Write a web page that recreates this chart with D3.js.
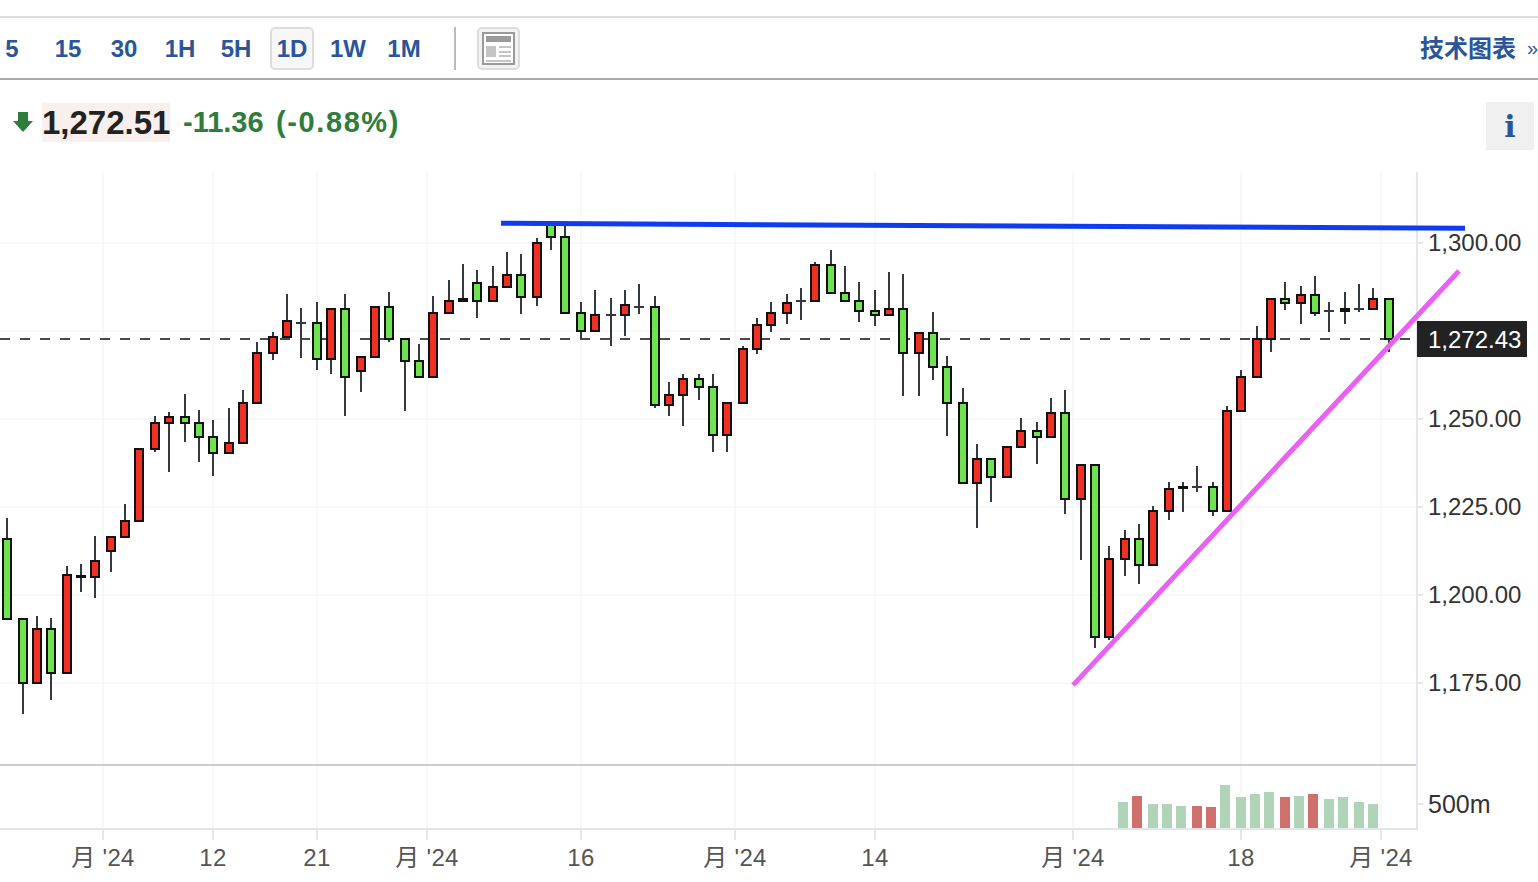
<!DOCTYPE html>
<html>
<head>
<meta charset="utf-8">
<script src="https://cdn.jsdelivr.net/npm/d3@7"></script>
<style>
  html, body { margin: 0; background: #fff; overflow: hidden; }
  text { font-family: "Liberation Sans", "Noto Sans CJK SC", sans-serif; }
  .axis .domain { display: none; }
</style>
</head>
<body>
<div id="chart"></div>
<script>
// candles, oldest first
const opens = [1215.9,1193.2,1175.0,1190.3,1177.8,1205.1,1205.1,1212.5,1216.5,1221.0,1241.5,1248.9,1250.6,1248.9,1244.9,1240.3,1243.2,1254.5,1268.7,1273.3,1277.3,1277.3,1267.0,1281.2,1263.6,1267.6,1281.8,1272.7,1266.5,1261.9,1280.1,1283.5,1288.6,1283.5,1287.5,1290.9,1284.7,1305.1,1301.7,1280.1,1275.0,1279.5,1279.5,1281.8,1281.8,1254.0,1256.8,1261.4,1259.1,1245.5,1254.5,1269.9,1276.7,1280.1,1283.5,1283.5,1293.8,1285.8,1283.5,1280.7,1279.5,1281.2,1268.7,1274.4,1264.8,1254.5,1231.8,1238.6,1233.5,1242.0,1246.6,1244.9,1251.7,1227.3,1236.9,1188.1,1210.2,1215.9,1208.5,1223.9,1230.4,1230.7,1230.7,1223.9,1252.3,1261.9,1272.7,1284.1,1283.0,1285.2,1280.7,1280.7,1281.2,1281.2,1284.1];
const closes = [1193.2,1175.0,1190.3,1177.8,1205.7,1205.4,1209.7,1216.5,1221.0,1241.5,1248.9,1250.6,1248.9,1244.9,1240.3,1243.2,1254.5,1268.7,1273.3,1277.8,1277.3,1267.0,1281.2,1261.9,1267.6,1281.8,1272.7,1266.5,1261.9,1280.1,1283.5,1284.1,1283.5,1287.5,1290.9,1284.7,1300.0,1301.7,1280.1,1275.0,1279.5,1279.5,1282.4,1281.8,1254.0,1256.8,1261.4,1259.1,1245.5,1254.5,1269.9,1276.7,1280.1,1283.0,1283.5,1293.8,1285.8,1283.5,1280.7,1279.5,1281.2,1268.7,1274.4,1264.8,1254.5,1231.8,1238.6,1233.5,1242.0,1246.6,1244.9,1251.7,1227.3,1236.9,1188.1,1210.2,1215.9,1208.5,1223.9,1230.1,1230.7,1230.7,1223.9,1252.3,1261.9,1272.7,1284.1,1283.0,1285.2,1280.1,1280.7,1281.2,1281.2,1284.1,1272.7];
const highs = [1221.9,1193.2,1194.0,1193.5,1208.2,1208.8,1216.8,1216.5,1225.9,1241.5,1250.9,1252.0,1257.1,1252.6,1249.7,1253.1,1258.2,1271.9,1274.7,1285.5,1281.5,1283.2,1281.2,1285.5,1267.6,1281.8,1286.1,1272.7,1271.3,1284.9,1289.5,1294.0,1292.3,1293.5,1297.4,1296.9,1301.4,1305.1,1305.1,1283.2,1286.6,1284.4,1286.6,1288.4,1284.9,1260.5,1262.8,1262.8,1262.8,1254.5,1270.7,1278.7,1283.2,1285.5,1287.2,1294.6,1298.0,1293.5,1288.9,1286.6,1291.8,1291.2,1274.4,1280.4,1267.9,1258.8,1242.9,1238.6,1242.0,1250.3,1249.1,1256.0,1258.2,1236.9,1236.9,1213.9,1218.5,1220.2,1225.3,1232.1,1232.1,1236.6,1232.1,1253.7,1263.9,1276.4,1284.1,1288.9,1287.8,1290.6,1283.2,1286.1,1288.4,1287.2,1284.1];
const lows = [1193.2,1166.2,1175.0,1170.2,1177.8,1200.9,1199.1,1206.5,1216.5,1221.0,1240.6,1234.9,1243.5,1237.8,1233.8,1240.3,1243.2,1254.5,1266.8,1273.3,1267.3,1263.9,1262.8,1250.9,1257.7,1267.6,1271.9,1252.3,1261.9,1261.9,1280.1,1283.5,1278.7,1283.5,1287.5,1279.8,1282.1,1298.0,1280.1,1272.7,1275.0,1270.7,1273.6,1279.8,1253.1,1250.9,1248.0,1255.4,1240.6,1240.6,1254.5,1268.5,1274.7,1277.0,1278.1,1283.5,1285.8,1283.5,1277.6,1276.4,1279.5,1256.5,1256.5,1261.1,1245.2,1231.8,1219.0,1226.4,1233.5,1242.0,1237.2,1244.9,1223.0,1209.9,1184.9,1187.2,1205.4,1203.1,1208.5,1221.3,1223.6,1229.3,1222.4,1223.9,1252.3,1261.9,1269.0,1281.0,1277.0,1279.3,1274.7,1277.0,1280.4,1281.2,1269.0];

// volume only exists for the last stretch of candles
const volumeStart = 76;
const volumes = [551,673,510,510,469,469,429,878,633,714,755,633,673,714,592,633,551,510];
const volumeUp = [0,1,0,0,0,1,1,0,0,0,0,1,0,1,0,0,0,0];

const priceTicks = [1300,1275,1250,1225,1200,1175];
const hiddenPriceTick = 1275;
const volumeTicks = [500];
const timeTicks = [6.484,13.97,21.05,28.54,39.02,49.51,59.04,72.52,83.95,93.48];
const timeLabels = ["月 '24","12","21","月 '24","16","月 '24","14","月 '24","18","月 '24"];

const priceLine = 1272.7;
const priceLineLabel = "1,272.43";
const blueTrend = [[33.58,1305.6],[99.2,1304.18]];
const pinkTrend = [[72.52,1174.4],[98.79,1292.05]];

const intervals = ["5","15","30","1H","5H","1D","1W","1M"];

const width = 1538, height = 882;
const plotTop = 172, plotRight = 1417, paneLine = 765, plotBottom = 829;
const red = "#ee3124", green = "#6fe350", wick = "#343a3d", blue = "#2a5599";

const svg = d3.select("#chart").append("svg")
  .attr("width", width).attr("height", height)
  .style("display", "block");

const x = d3.scaleLinear().domain([0, 94]).range([7.75, 1388.61]);
const xTick = x.copy().interpolate(d3.interpolateRound);
const y = d3.scaleLinear().domain([1175, 1300]).range([683, 243]);
const yVol = d3.scaleLinear().domain([0, 500]).range([828.5, 804]);

// the source chart snaps everything to odd pixels
const snap = v => Math.floor(v / 2) * 2 + 1;
const py = v => Math.round(y(v));

// grid
const grid = svg.append("g");
grid.selectAll(".gy").data(priceTicks).enter().append("line")
  .attr("x1", 0).attr("x2", plotRight)
  .attr("y1", d => y(d)).attr("y2", d => y(d))
  .attr("stroke", "#f7f8f9").attr("stroke-width", 2);
grid.selectAll(".gx").data(timeTicks).enter().append("line")
  .attr("x1", d => xTick(d)).attr("x2", d => xTick(d))
  .attr("y1", plotTop).attr("y2", plotBottom)
  .attr("stroke", "#f7f8f9").attr("stroke-width", 2);

// volume
const volumeBars = svg.append("g");
volumeBars.selectAll("rect").data(volumes).enter().append("rect")
  .attr("x", (d, i) => snap(x(volumeStart + i) - 1.2) - 5)
  .attr("width", 10)
  .attr("y", d => Math.round(yVol(d)))
  .attr("height", d => 828 - Math.round(yVol(d)))
  .attr("fill", (d, i) => volumeUp[i] ? "#d0706c" : "#b0d4b8");

// panes and axes
svg.append("line").attr("x1", 0).attr("x2", plotRight).attr("y1", paneLine).attr("y2", paneLine)
  .attr("stroke", "#cccccc").attr("stroke-width", 2);
svg.append("line").attr("x1", 0).attr("x2", plotRight).attr("y1", plotBottom).attr("y2", plotBottom)
  .attr("stroke", "#e3e6ec").attr("stroke-width", 2);
svg.append("line").attr("x1", plotRight).attr("x2", plotRight).attr("y1", plotTop).attr("y2", plotBottom + 1)
  .attr("stroke", "#e3e6ec").attr("stroke-width", 2);

function styleAxis(g) {
  g.attr("class", "axis");
  g.selectAll(".tick line").attr("stroke", "#e3e6ec").attr("stroke-width", 2);
  g.selectAll("text").style("font-size", "24px");
}

const priceAxis = svg.append("g").attr("transform", `translate(${plotRight},0)`)
  .call(d3.axisRight(y).tickValues(priceTicks).tickSize(6).tickPadding(5).offset(0)
    .tickFormat(d => d === hiddenPriceTick ? "" : d3.format(",.2f")(d)));
styleAxis(priceAxis);
priceAxis.selectAll("text").attr("fill", "#333");

const volumeAxis = svg.append("g").attr("transform", `translate(${plotRight},0)`)
  .call(d3.axisRight(yVol).tickValues(volumeTicks).tickSize(6).tickPadding(5).offset(0)
    .tickFormat(d => d + "m"));
styleAxis(volumeAxis);
volumeAxis.selectAll("text").attr("fill", "#333").attr("y", 1).style("font-size", "25px");

const timeAxis = svg.append("g").attr("transform", `translate(0,${plotBottom})`)
  .call(d3.axisBottom(xTick).tickValues(timeTicks).tickSize(11).offset(0)
    .tickFormat((d, i) => timeLabels[i]));
styleAxis(timeAxis);
timeAxis.selectAll("text").attr("fill", "#555").attr("y", 37).attr("dy", 0).style("letter-spacing", "0.3px");

// last price line
svg.append("line")
  .attr("x1", 0).attr("x2", 1412)
  .attr("y1", py(priceLine)).attr("y2", py(priceLine))
  .attr("stroke", "#4a4a4a").attr("stroke-width", 2).attr("stroke-dasharray", "10 10");

// candles
const candles = svg.append("g").selectAll("g").data(d3.range(opens.length)).enter().append("g");
candles.append("line")
  .attr("x1", i => snap(x(i))).attr("x2", i => snap(x(i)))
  .attr("y1", i => py(highs[i])).attr("y2", i => py(lows[i]))
  .attr("stroke", wick).attr("stroke-width", 2);
candles.filter(i => opens[i] === closes[i]).append("line")
  .attr("x1", i => snap(x(i)) - 5).attr("x2", i => snap(x(i)) + 5)
  .attr("y1", i => py(opens[i])).attr("y2", i => py(opens[i]))
  .attr("stroke", wick).attr("stroke-width", 2);
candles.filter(i => opens[i] !== closes[i]).append("rect")
  .attr("x", i => snap(x(i)) - 4)
  .attr("width", 8)
  .attr("y", i => py(Math.max(opens[i], closes[i])))
  .attr("height", i => py(Math.min(opens[i], closes[i])) - py(Math.max(opens[i], closes[i])))
  .attr("fill", i => closes[i] > opens[i] ? red : green)
  .attr("stroke", "#111").attr("stroke-width", 2);

// hand drawn trend lines
const trendLine = d3.line().x(d => x(d[0])).y(d => y(d[1]));
svg.append("path").attr("d", trendLine(blueTrend)).attr("fill", "none")
  .attr("stroke", "#0f3cf0").attr("stroke-width", 5);
svg.append("path").attr("d", trendLine(pinkTrend)).attr("fill", "none")
  .attr("stroke", "#e961f2").attr("stroke-width", 5);

// last price tag
svg.append("rect").attr("x", 1417).attr("y", 321).attr("width", 110).attr("height", 36).attr("fill", "#222");
svg.append("text").attr("x", 1428).attr("y", 348).attr("fill", "#fff").style("font-size", "24px").text(priceLineLabel);

// toolbar
svg.append("rect").attr("width", width).attr("y", 16).attr("height", 2).attr("fill", "#dddddd");
svg.append("rect").attr("width", width).attr("y", 78).attr("height", 2).attr("fill", "#aaaaaa");
svg.append("rect").attr("x", 271).attr("y", 28).attr("width", 42).attr("height", 41).attr("rx", 4)
  .attr("fill", "#f7f7f7").attr("stroke", "#dddddd").attr("stroke-width", 2);
svg.selectAll(".interval").data(intervals).enter().append("text")
  .attr("x", (d, i) => 12 + i * 56).attr("y", 57).attr("text-anchor", "middle")
  .attr("fill", blue).style("font-size", "24px").style("font-weight", "bold")
  .text(d => d);
svg.append("rect").attr("x", 454).attr("y", 27).attr("width", 2).attr("height", 43).attr("fill", "#bbbbbb");

// layout icon
svg.append("rect").attr("x", 478).attr("y", 28).attr("width", 41).attr("height", 41).attr("rx", 4)
  .attr("fill", "#f2f2f2").attr("stroke", "#dddddd").attr("stroke-width", 2);
svg.append("rect").attr("x", 483).attr("y", 33).attr("width", 31).attr("height", 31)
  .attr("fill", "#fff").attr("stroke", "#9a9a9a").attr("stroke-width", 2);
const iconBits = [[486,36,25,6,"#9a9a9a"],[486,46,10,11,"#c4c4c4"],[499,46,12,2,"#c4c4c4"],[499,51,12,2,"#c4c4c4"],[499,55,12,2,"#c4c4c4"],[486,60,25,2,"#c4c4c4"]];
svg.selectAll(".bit").data(iconBits).enter().append("rect")
  .attr("x", d => d[0]).attr("y", d => d[1]).attr("width", d => d[2]).attr("height", d => d[3]).attr("fill", d => d[4]);

svg.append("text").attr("x", 1420).attr("y", 57).attr("fill", blue)
  .style("font-size", "24px").style("font-weight", "bold").text("技术图表");
svg.append("text").attr("x", 1527).attr("y", 55).attr("fill", blue).style("font-size", "20px").text("»");

// quote row
svg.append("path").attr("d", "M18 112h10v9h5l-10 11l-10-11h5z").attr("fill", "#2e7d3a");
svg.append("rect").attr("x", 42).attr("y", 103).attr("width", 128).attr("height", 39).attr("fill", "#f9efec");
svg.append("text").attr("x", 42).attr("y", 134).attr("fill", "#222")
  .style("font-size", "33px").style("font-weight", "bold").text("1,272.51");
svg.append("text").attr("x", 183).attr("y", 132).attr("fill", "#2e7d3a")
  .style("font-size", "29px").style("font-weight", "bold").text("-11.36");
svg.append("text").attr("x", 276).attr("y", 132).attr("fill", "#2e7d3a")
  .style("font-size", "29px").style("font-weight", "bold").style("letter-spacing", "1.6px").text("(-0.88%)");

// info button
svg.append("rect").attr("x", 1486).attr("y", 102).attr("width", 48).attr("height", 48).attr("fill", "#f0f0f0");
svg.append("text").attr("x", 1510).attr("y", 137).attr("text-anchor", "middle").attr("fill", blue)
  .style("font-family", "'DejaVu Serif', serif").style("font-size", "30px").style("font-weight", "bold").text("i");
</script>
</body>
</html>
